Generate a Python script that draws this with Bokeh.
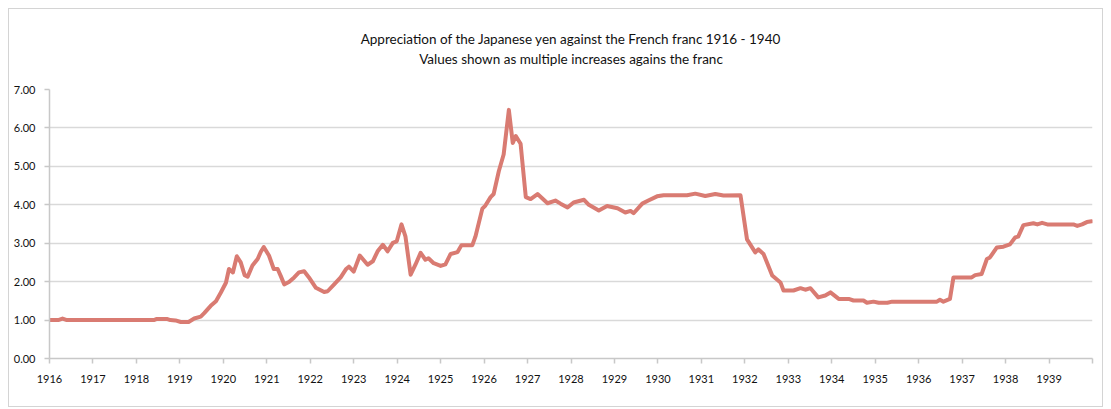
from bokeh.plotting import figure
from bokeh.models import Range1d, FixedTicker, NumeralTickFormatter, Title, LinearAxis
from bokeh.embed import file_html
from bokeh.resources import INLINE

title_line1 = "Appreciation of the Japanese yen against the French franc 1916 - 1940"
title_line2 = "Values shown as multiple increases agains the franc"

years = [1916.00, 1916.20, 1916.30, 1916.40, 1917.00, 1918.00, 1918.40, 1918.47, 1918.70, 1918.78,
         1918.90, 1919.02, 1919.20, 1919.33, 1919.48, 1919.56, 1919.71, 1919.83, 1919.94, 1920.06,
         1920.13, 1920.22, 1920.31, 1920.40, 1920.49, 1920.56, 1920.67, 1920.79, 1920.86, 1920.93,
         1921.05, 1921.16, 1921.25, 1921.32, 1921.40, 1921.51, 1921.63, 1921.74, 1921.86, 1921.97,
         1922.13, 1922.32, 1922.40, 1922.55, 1922.70, 1922.82, 1922.89, 1923.00, 1923.14, 1923.32,
         1923.44, 1923.55, 1923.67, 1923.78, 1923.90, 1923.99, 1924.10, 1924.19, 1924.31, 1924.42,
         1924.54, 1924.65, 1924.72, 1924.84, 1925.00, 1925.11, 1925.23, 1925.39, 1925.48, 1925.73,
         1925.80, 1925.96, 1926.03, 1926.15, 1926.22, 1926.34, 1926.45, 1926.57, 1926.66, 1926.73,
         1926.84, 1926.96, 1927.07, 1927.23, 1927.46, 1927.64, 1927.76, 1927.92, 1928.06, 1928.30,
         1928.41, 1928.64, 1928.83, 1929.07, 1929.25, 1929.37, 1929.44, 1929.64, 1929.78, 1929.98,
         1930.13, 1930.67, 1930.86, 1931.09, 1931.32, 1931.51, 1931.90, 1932.05, 1932.24, 1932.31,
         1932.43, 1932.63, 1932.82, 1932.89, 1933.12, 1933.28, 1933.39, 1933.51, 1933.69, 1933.85,
         1933.97, 1934.16, 1934.39, 1934.50, 1934.73, 1934.81, 1934.96, 1935.08, 1935.28, 1935.39,
         1936.42, 1936.49, 1936.57, 1936.72, 1936.80, 1937.22, 1937.30, 1937.45, 1937.57, 1937.64,
         1937.80, 1937.95, 1938.10, 1938.22, 1938.29, 1938.41, 1938.64, 1938.73, 1938.84, 1938.96,
         1939.56, 1939.65, 1939.76, 1939.87, 1939.98]

values = [1.00, 1.00, 1.04, 1.00, 1.00, 1.00, 1.00, 1.03, 1.03, 1.00,
          0.99, 0.95, 0.95, 1.04, 1.09, 1.18, 1.37, 1.49, 1.71, 1.97,
          2.33, 2.24, 2.66, 2.50, 2.17, 2.13, 2.42, 2.59, 2.77, 2.90,
          2.68, 2.33, 2.33, 2.15, 1.93, 1.99, 2.11, 2.24, 2.27, 2.11,
          1.84, 1.73, 1.75, 1.93, 2.11, 2.32, 2.39, 2.26, 2.68, 2.44,
          2.53, 2.79, 2.96, 2.79, 3.01, 3.05, 3.49, 3.18, 2.18, 2.44,
          2.75, 2.57, 2.61, 2.48, 2.41, 2.45, 2.72, 2.77, 2.95, 2.95,
          3.17, 3.90, 3.98, 4.20, 4.28, 4.88, 5.31, 6.47, 5.61, 5.79,
          5.59, 4.20, 4.15, 4.28, 4.04, 4.11, 4.03, 3.93, 4.06, 4.13,
          4.00, 3.85, 3.97, 3.91, 3.80, 3.84, 3.78, 4.03, 4.11, 4.22,
          4.25, 4.25, 4.29, 4.23, 4.28, 4.24, 4.25, 3.10, 2.76, 2.84,
          2.72, 2.16, 1.98, 1.77, 1.77, 1.83, 1.79, 1.83, 1.59, 1.64,
          1.72, 1.55, 1.55, 1.51, 1.51, 1.45, 1.48, 1.45, 1.45, 1.48,
          1.48, 1.53, 1.48, 1.55, 2.11, 2.11, 2.17, 2.20, 2.59, 2.63,
          2.89, 2.91, 2.97, 3.15, 3.17, 3.47, 3.52, 3.49, 3.53, 3.49,
          3.49, 3.45, 3.49, 3.55, 3.57]

year_ticks = list(range(1916, 1941))
year_labels = {1940: ""}
value_ticks = [0, 1, 2, 3, 4, 5, 6, 7]

FONT = "Lato"

p = figure(width=1095, height=399, output_backend="svg", toolbar_location=None,
           x_range=Range1d(1916, 1940), y_range=Range1d(0, 7),
           min_border_left=40, min_border_right=12, min_border_top=80, min_border_bottom=50,
           styles={"margin-left": "8px", "margin-top": "8px", "border": "1px solid #d4d4d4"})
p.title.visible = False
p.outline_line_color = None
p.background_fill_color = "white"
p.border_fill_color = "white"

p.line(years, values, line_color="#d97b72", line_width=4, line_join="round", line_cap="round")

p.xgrid.visible = False
p.ygrid.grid_line_color = "#d9d9d9"
p.ygrid.grid_line_width = 1.5

for ax in (p.xaxis, p.yaxis):
    ax.axis_line_color = "#c8c8c8"
    ax.axis_line_width = 1.5
    ax.major_tick_line_color = "#c8c8c8"
    ax.major_tick_line_width = 1.5
    ax.major_tick_out = 5
    ax.major_tick_in = 0
    ax.minor_tick_line_color = None
    ax.major_label_text_font = FONT
    ax.major_label_text_font_size = "11px"
    ax.major_label_text_color = "#111111"

p.xaxis.ticker = FixedTicker(ticks=year_ticks)
p.xaxis.major_label_overrides = year_labels
p.xaxis.major_label_standoff = 11
p.yaxis.ticker = FixedTicker(ticks=value_ticks)
p.yaxis.formatter = NumeralTickFormatter(format="0.00")
p.yaxis.major_label_standoff = 9

# second title line, carried by an invisible top axis
sub = LinearAxis(ticker=FixedTicker(ticks=[]), axis_label=title_line2,
                 axis_line_color=None, major_tick_line_color=None, minor_tick_line_color=None,
                 major_tick_out=0, major_tick_in=0, major_label_standoff=0,
                 axis_label_standoff=23, axis_label_text_font=FONT,
                 axis_label_text_font_size="13.5px", axis_label_text_font_style="normal",
                 axis_label_text_color="#111111")
p.add_layout(sub, "above")
p.add_layout(Title(text=title_line1, align="center", vertical_align="bottom", text_font=FONT,
                   text_font_size="13.5px", text_font_style="normal", text_color="#111111",
                   standoff=1), "above")

open("out.html", "w").write(file_html(p, INLINE))
